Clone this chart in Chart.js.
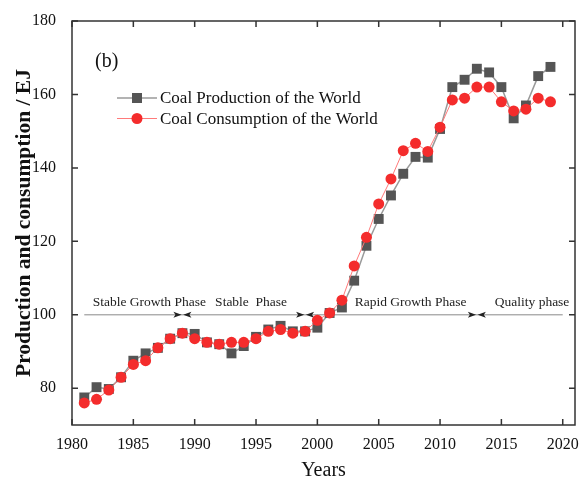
<!DOCTYPE html>
<html lang="en">
<head>
<meta charset="UTF-8">
<title>Coal production and consumption of the world</title>
<script src="https://cdn.jsdelivr.net/npm/chart.js"></script>
<style>
  html, body { margin: 0; padding: 0; background: #fff; }
</style>
</head>
<body>
<canvas id="coalChart" width="588" height="481"></canvas>
<script>
// data (EJ)
const years = [1981, 1982, 1983, 1984, 1985, 1986, 1987, 1988, 1989, 1990,
               1991, 1992, 1993, 1994, 1995, 1996, 1997, 1998, 1999, 2000,
               2001, 2002, 2003, 2004, 2005, 2006, 2007, 2008, 2009, 2010,
               2011, 2012, 2013, 2014, 2015, 2016, 2017, 2018, 2019];
const production = [77.5, 80.3, 79.8, 83, 87.5, 89.5, 91, 93.5, 95, 94.8,
                    92.5, 92, 89.5, 91.5, 94, 96, 97, 95.5, 95.5, 96.5,
                    100.5, 102, 109.3, 118.8, 126.1, 132.5, 138.4, 143, 142.8, 150.6,
                    162, 164, 167, 166, 162, 153.5, 157, 165, 167.5];
const consumption = [76, 77, 79.5, 83, 86.5, 87.5, 91, 93.5, 95, 93.5,
                     92.5, 92, 92.5, 92.5, 93.5, 95.5, 96, 95, 95.5, 98.5,
                     100.5, 104, 113.3, 121.1, 130.2, 137, 144.7, 146.7, 144.5, 151.1,
                     158.5, 159, 162, 162, 158, 155.5, 156, 159, 158];
const xTicks = [1980, 1985, 1990, 1995, 2000, 2005, 2010, 2015, 2020];
const yTicks = [80, 100, 120, 140, 160, 180];

// phase annotation
const phaseNames = ['Stable Growth Phase', 'Stable  Phase', 'Rapid Growth Phase', 'Quality phase'];
const phaseLabelYears = [1986.3, 1994.6, 2007.6, 2017.5];
const phaseBounds = [1981, 1989, 1999, 2013, 2020];
const phaseLevel = 100;

const serif = '"Liberation Serif", "Times New Roman", serif';

// horizontal phase line with arrows meeting at each boundary
const phasePlugin = {
    id: 'phasePlugin',
    beforeDatasetsDraw(chart) {
        const { ctx, scales: { x, y } } = chart;
        const py = y.getPixelForValue(phaseLevel);
        ctx.save();
        ctx.strokeStyle = '#8a8a8a';
        ctx.lineWidth = 1;
        ctx.beginPath();
        ctx.moveTo(x.getPixelForValue(phaseBounds[0]), py);
        ctx.lineTo(x.getPixelForValue(phaseBounds[phaseBounds.length - 1]), py);
        ctx.stroke();
        ctx.fillStyle = '#222';
        phaseBounds.slice(1, -1).forEach(b => {
            const px = x.getPixelForValue(b);
            ctx.beginPath();
            ctx.moveTo(px - 0.8, py);
            ctx.lineTo(px - 9, py - 3);
            ctx.lineTo(px - 7, py);
            ctx.lineTo(px - 9, py + 3);
            ctx.closePath();
            ctx.fill();
            ctx.beginPath();
            ctx.moveTo(px + 0.8, py);
            ctx.lineTo(px + 9, py - 3);
            ctx.lineTo(px + 7, py);
            ctx.lineTo(px + 9, py + 3);
            ctx.closePath();
            ctx.fill();
        });
        ctx.font = '13.5px ' + serif;
        ctx.textAlign = 'center';
        ctx.textBaseline = 'middle';
        phaseNames.forEach((name, i) => {
            ctx.fillText(name, x.getPixelForValue(phaseLabelYears[i]), y.getPixelForValue(103.4));
        });
        ctx.restore();
    }
};

// box frame with inward ticks on all four sides, panel tag and legend
const framePlugin = {
    id: 'framePlugin',
    afterDraw(chart) {
        const { ctx, chartArea: a, scales: { x, y } } = chart;
        ctx.save();
        ctx.strokeStyle = '#333';
        ctx.lineWidth = 1.5;
        ctx.strokeRect(a.left, a.top, a.right - a.left, a.bottom - a.top);
        ctx.beginPath();
        xTicks.forEach(v => {
            const px = x.getPixelForValue(v);
            ctx.moveTo(px, a.bottom); ctx.lineTo(px, a.bottom - 6);
            ctx.moveTo(px, a.top); ctx.lineTo(px, a.top + 6);
        });
        yTicks.forEach(v => {
            const py = y.getPixelForValue(v);
            ctx.moveTo(a.left, py); ctx.lineTo(a.left + 6, py);
            ctx.moveTo(a.right, py); ctx.lineTo(a.right - 6, py);
        });
        ctx.stroke();

        ctx.fillStyle = '#111';
        ctx.font = '20px ' + serif;
        ctx.textBaseline = 'middle';
        ctx.fillText('(b)', 95, 62);

        // legend
        ctx.font = '17px ' + serif;
        chart.data.datasets.forEach((ds, i) => {
            const ly = 98 + i * 20.5;
            ctx.strokeStyle = ds.borderColor;
            ctx.lineWidth = ds.borderWidth;
            ctx.beginPath();
            ctx.moveTo(117, ly); ctx.lineTo(157, ly);
            ctx.stroke();
            ctx.fillStyle = ds.pointBackgroundColor;
            if (ds.pointStyle === 'rect') {
                ctx.fillRect(132, ly - 5, 10, 10);
            } else {
                ctx.beginPath();
                ctx.arc(137, ly, 5.5, 0, Math.PI * 2);
                ctx.fill();
            }
            ctx.fillStyle = '#111';
            ctx.fillText(ds.label, 160, ly + 1);
        });
        ctx.restore();
    }
};

new Chart(document.getElementById('coalChart'), {
    type: 'line',
    data: {
        datasets: [{
            label: 'Coal Production of the World',
            data: years.map((yr, i) => ({ x: yr, y: production[i] })),
            borderColor: '#9a9a9a',
            borderWidth: 1.5,
            pointStyle: 'rect',
            pointRadius: 7,
            pointBackgroundColor: '#555555',
            pointBorderColor: '#555555',
            pointBorderWidth: 0,
            order: 1
        }, {
            label: 'Coal Consumption of the World',
            data: years.map((yr, i) => ({ x: yr, y: consumption[i] })),
            borderColor: '#ff7a7a',
            borderWidth: 1,
            pointStyle: 'circle',
            pointRadius: 5.5,
            pointBackgroundColor: '#f42c2c',
            pointBorderColor: '#f42c2c',
            pointBorderWidth: 0,
            order: 0
        }]
    },
    options: {
        responsive: false,
        animation: false,
        layout: { padding: { top: 21, right: 13, left: 0, bottom: 0 } },
        plugins: {
            legend: { display: false },
            tooltip: { enabled: false }
        },
        scales: {
            x: {
                type: 'linear',
                min: 1980,
                max: 2021,
                afterBuildTicks: s => { s.ticks = xTicks.map(v => ({ value: v })); },
                afterFit: s => { s.height = 56; },
                grid: { display: false },
                border: { display: false },
                ticks: {
                    padding: 2,
                    color: '#111',
                    font: { family: serif, size: 16 },
                    maxRotation: 0,
                    callback: v => String(v)
                },
                title: {
                    display: true,
                    text: 'Years',
                    color: '#111',
                    font: { family: serif, size: 20, lineHeight: 1 },
                    padding: { top: 0, bottom: 0 }
                }
            },
            y: {
                min: 70,
                max: 180,
                afterBuildTicks: s => { s.ticks = yTicks.map(v => ({ value: v })); },
                afterFit: s => { s.width = 72; },
                grid: { display: false },
                border: { display: false },
                ticks: {
                    padding: 8,
                    color: '#111',
                    font: { family: serif, size: 16 }
                },
                title: {
                    display: true,
                    text: 'Production and consumption / EJ',
                    color: '#111',
                    font: { family: serif, size: 21.5, weight: 'bold', lineHeight: 1 },
                    padding: { top: 14, bottom: 0 }
                }
            }
        }
    },
    plugins: [phasePlugin, framePlugin]
});
</script>
</body>
</html>
